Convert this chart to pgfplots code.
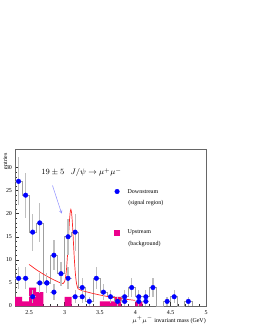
\documentclass[border=0pt]{standalone}
\usepackage{fontspec}
\setmainfont{Liberation Serif}
\usepackage{pgfplots}
\pgfplotsset{compat=1.18}
\begin{document}
\begin{tikzpicture}[x=1bp,y=1bp]
\path[use as bounding box] (0,0) rectangle (253,327);
\begin{axis}[at={(15bp,21bp)}, anchor=south west, scale only axis,
  width=191bp, height=157bp,
  xmin=2.3, xmax=5, ymin=0, ymax=34,
  xtick={2.5,3,3.5,4,4.5,5}, ytick={0,5,10,15,20,25,30},
  minor x tick num=4, minor y tick num=4,
  xtick pos=left, ytick pos=left,
  tick align=inside, major tick length=4bp, minor tick length=2bp,
  axis line style={gray!80!black, line width=0.5pt},
  tick style={black!80, line width=0.4pt},
  ticklabel style={font=\fontsize{6}{7}\selectfont},
  /pgf/number format/assume math mode=true,
  x tick label style={yshift=-1bp},
  y tick label style={xshift=0.5bp},
  clip=false,
  xlabel={$\mu^{+}\mu^{-}$ invariant mass (GeV)},
  xlabel style={at={(axis description cs:1,0)}, anchor=base east, yshift=-16bp, inner sep=0pt, font=\fontsize{6}{7}\selectfont},
  ylabel={entries},
  ylabel style={at={(axis description cs:-0.04,0.975)}, anchor=south east, inner sep=0pt, font=\fontsize{6}{7}\selectfont},
]
% upstream background (filled bars)
\addplot[ybar interval, fill=magenta, draw=none] coordinates {
(2.3,2)(2.4,1)(2.5,4)(2.6,3)(2.7,0)(2.8,0)(2.9,0)(3.0,2)(3.1,0)(3.2,0)(3.3,0)(3.4,0)(3.5,1)(3.6,1)(3.7,2)(3.8,0)(3.9,0)(4.0,1)(4.1,0)};
% downstream histogram outline
\addplot[const plot, gray!75, line width=0.6bp] coordinates {
(2.3,27)(2.4,24)(2.5,16)(2.6,18)(2.7,5)(2.8,11)(2.9,7)(3.0,15)(3.1,16)(3.2,4)(3.3,1)(3.4,6)(3.5,3)(3.6,2)(3.7,1)(3.8,2)(3.9,4)(4.0,2)(4.1,2)(4.2,4)(4.3,0)(4.4,1)(4.5,2)(4.6,0)(4.7,1)(4.8,1)(4.8,0)};
% fit curve
\addplot[red!85, line width=0.7bp, smooth, tension=0.3] coordinates {
(2.50,9.00)(2.60,7.88)(2.70,6.90)(2.80,6.04)(2.90,5.29)(2.95,4.96)(2.98,4.87)(3.00,5.24)(3.01,5.80)(3.02,6.78)(3.03,8.32)(3.04,10.45)(3.05,13.07)(3.06,15.91)(3.07,18.49)(3.08,20.29)(3.09,20.91)(3.10,20.18)(3.11,18.27)(3.12,15.59)(3.13,12.63)(3.14,9.90)(3.15,7.66)(3.16,6.01)(3.17,4.82)(3.18,4.25)(3.19,3.73)(3.20,3.67)(3.25,3.32)(3.30,3.11)(3.40,2.72)(3.50,2.38)(3.60,2.08)(3.70,1.82)(3.80,1.60)(3.90,1.40)(4.00,1.22)};
% downstream, upper series
\addplot[only marks, mark=*, blue, mark size=2.3bp,
  error bars/.cd, y dir=both, y explicit,
  error bar style={gray!50, line width=1.2bp}, error mark=none] coordinates {
(2.35,27) +- (0,5.2)
(2.45,24) +- (0,4.9)
(2.55,16) +- (0,4.0)
(2.65,18) +- (0,4.2)
(2.75,5) +- (0,2.2)
(2.85,11) +- (0,3.3)
(2.95,7) +- (0,2.6)
(3.05,15) +- (0,3.9)
(3.15,16) +- (0,4.0)
(3.25,4) +- (0,2.0)
(3.35,1) +- (0,1.0)
(3.45,6) +- (0,2.4)
(3.55,3) +- (0,1.7)
(3.65,2) +- (0,1.4)
(3.75,1) +- (0,1.0)
(3.85,2) +- (0,1.4)
(3.95,4) +- (0,2.0)
(4.05,2) +- (0,1.4)
(4.15,2) +- (0,1.4)
(4.25,4) +- (0,2.0)
(4.45,1) +- (0,1.0)
(4.55,2) +- (0,1.4)
(4.75,1) +- (0,1.0)
};
% downstream, lower series
\addplot[only marks, mark=*, blue, mark size=2.3bp,
  error bars/.cd, x dir=both, x explicit, y dir=both, y explicit,
  error bar style={gray!50, line width=1.2bp}, error mark=none] coordinates {
(2.35,6) +- (0.05,2.4)
(2.45,6) +- (0.05,2.4)
(2.55,2) +- (0.05,1.4)
(2.65,5) +- (0.05,2.2)
(2.75,5) +- (0.05,2.2)
(2.85,3) +- (0.05,1.7)
(3.05,6) +- (0.05,2.4)
(3.15,2) +- (0.05,1.4)
(3.25,2) +- (0.05,1.4)
(3.85,1) +- (0.05,1.0)
(4.05,1) +- (0.05,1.0)
(4.15,1) +- (0.05,1.0)
};
% legend markers
\addplot[only marks, mark=*, blue, mark size=2.3bp] coordinates {(3.743,24.8)};
\addplot[only marks, mark=square*, magenta, mark size=2.6bp] coordinates {(3.743,15.95)};
\node[anchor=west, inner sep=0pt, font=\fontsize{6}{7}\selectfont] at (axis cs:3.89,24.8) {Downstream};
\node[anchor=west, inner sep=0pt, font=\fontsize{6}{7}\selectfont] at (axis cs:3.90,22.3) {(signal region)};
\node[anchor=west, inner sep=0pt, font=\fontsize{6}{7}\selectfont] at (axis cs:3.89,15.95) {Upstream};
\node[anchor=west, inner sep=0pt, font=\fontsize{6}{7}\selectfont] at (axis cs:3.90,13.4) {(background)};
% annotation
\node[anchor=west, inner sep=0pt, font=\fontsize{8}{9}\selectfont] at (axis cs:2.67,28.9) {$19 \pm 5\;\;\, J/\psi \rightarrow \mu^{+}\mu^{-}$};
\draw[->, >=stealth, blue!45, line width=0.5bp] (axis cs:2.83,26.1) -- (axis cs:2.96,20.0);
\end{axis}
\end{tikzpicture}
\end{document}
